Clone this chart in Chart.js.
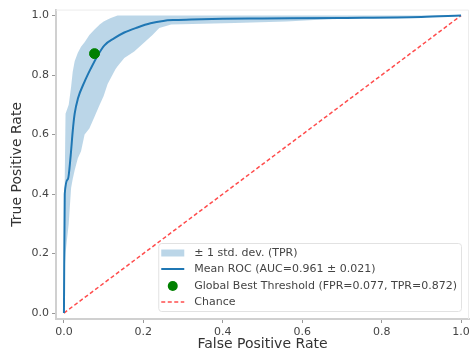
<!DOCTYPE html>
<html>
<head>
<meta charset="utf-8">
<script src="https://cdn.jsdelivr.net/npm/chart.js@4/dist/chart.umd.min.js"></script>
<style>
  html, body { margin: 0; padding: 0; background: #fff; }
  #wrap { width: 475px; height: 354px; }
</style>
</head>
<body>
<div id="wrap"><canvas id="rocChart" width="475" height="354"></canvas></div>
<script>
// values
var fpr     = [0, 0.002, 0.01, 0.017, 0.022, 0.027, 0.035, 0.052, 0.068, 0.085, 0.102, 0.127, 0.152, 0.185, 0.218, 0.25, 0.28, 0.32, 0.40, 0.50, 0.70, 0.90, 1.0];
var meanTpr = [0, 0.40, 0.45, 0.53, 0.61, 0.67, 0.72, 0.778, 0.823, 0.866, 0.90, 0.924, 0.943, 0.96, 0.974, 0.982, 0.985, 0.987, 0.989, 0.99, 0.992, 0.995, 1.0];

var bandFpr  = [0, 0.002, 0.004, 0.012, 0.018, 0.022, 0.027, 0.035, 0.043, 0.052, 0.064, 0.077, 0.09, 0.10, 0.11, 0.118, 0.13, 0.135, 0.152, 0.177, 0.20, 0.223, 0.24, 0.27, 0.43, 0.56, 0.70, 0.85, 1.0];
var upperTpr = [0, 0.45, 0.67, 0.70, 0.76, 0.81, 0.846, 0.875, 0.895, 0.91, 0.935, 0.953, 0.97, 0.98, 0.987, 0.992, 0.998, 1.0, 1.0, 1.0, 1.0, 1.0, 1.0, 1.0, 1.0, 1.0, 1.0, 1.0, 1.0];
var lowerTpr = [0, 0.15, 0.20, 0.30, 0.42, 0.45, 0.48, 0.52, 0.544, 0.60, 0.62, 0.66, 0.70, 0.73, 0.77, 0.79, 0.82, 0.83, 0.857, 0.879, 0.907, 0.935, 0.958, 0.97, 0.975, 0.98, 0.99, 0.995, 1.0];

var bestPoint = [0.077, 0.872];
var chanceX = [0, 1];
var tickValues = [0, 0.2, 0.4, 0.6, 0.8, 1.0];

var legendLabels = [
    "± 1 std. dev. (TPR)",
    "Mean ROC (AUC=0.961 ± 0.021)",
    "Global Best Threshold (FPR=0.077, TPR=0.872)",
    "Chance"
];

function pts(xs, ys) {
    return xs.map(function (x, i) { return { x: x, y: ys[i] }; });
}

var FONT = "'DejaVu Sans', sans-serif";

// frame around the plot + legend drawn inside the axes, matplotlib style
var framePlugin = {
    id: "frame",
    beforeDatasetsDraw: function (chart) {
        var a = chart.chartArea, c = chart.ctx;
        c.save();
        c.strokeStyle = "#ececec";
        c.lineWidth = 1;
        c.beginPath();
        c.moveTo(a.left, a.top + 0.5);
        c.lineTo(a.right - 0.5, a.top + 0.5);
        c.lineTo(a.right - 0.5, a.bottom);
        c.stroke();
        c.restore();
    },
    afterDraw: function (chart) {
        var a = chart.chartArea, c = chart.ctx;
        c.save();
        c.font = "11px " + FONT;
        var w = 0;
        legendLabels.forEach(function (t) { w = Math.max(w, c.measureText(t).width); });
        var boxW = w + 40, boxH = 68;
        var bx = a.right - 8 - boxW, by = a.bottom - 8 - boxH;
        c.fillStyle = "rgba(255,255,255,0.8)";
        c.strokeStyle = "#e2e2e2";
        c.lineWidth = 1;
        c.beginPath();
        c.roundRect(bx + 0.5, by + 0.5, boxW, boxH, 3);
        c.fill();
        c.stroke();
        var hx = bx + 3, tx = bx + 36;
        var rows = [by + 10, by + 26, by + 43, by + 59];
        // std band patch
        c.fillStyle = "rgba(31,119,180,0.3)";
        c.fillRect(hx, rows[0] - 3.5, 23, 7);
        // mean line
        c.strokeStyle = "#1f77b4";
        c.lineWidth = 2;
        c.beginPath(); c.moveTo(hx, rows[1]); c.lineTo(hx + 23, rows[1]); c.stroke();
        // best point
        c.fillStyle = "#008000";
        c.beginPath(); c.arc(hx + 11.5, rows[2], 5, 0, Math.PI * 2); c.fill();
        // chance
        c.strokeStyle = "rgba(255,0,0,0.7)";
        c.lineWidth = 1.5;
        c.setLineDash([4, 2.5]);
        c.beginPath(); c.moveTo(hx, rows[3]); c.lineTo(hx + 23, rows[3]); c.stroke();
        c.setLineDash([]);
        c.fillStyle = "#444";
        c.textBaseline = "middle";
        legendLabels.forEach(function (t, i) { c.fillText(t, tx, rows[i]); });
        c.restore();
    }
};

var ctx = document.getElementById("rocChart").getContext("2d");
new Chart(ctx, {
    type: "line",
    data: {
        datasets: [
            {
                label: legendLabels[2],
                type: "scatter",
                data: [{ x: bestPoint[0], y: bestPoint[1] }],
                backgroundColor: "#008000",
                borderColor: "#008000",
                pointRadius: 5,
                order: 0
            },
            {
                label: legendLabels[1],
                data: pts(fpr, meanTpr),
                borderColor: "#1f77b4",
                borderWidth: 2,
                pointRadius: 0,
                fill: false,
                cubicInterpolationMode: "monotone",
                order: 1
            },
            {
                label: legendLabels[3],
                data: pts(chanceX, chanceX),
                borderColor: "rgba(255,0,0,0.7)",
                borderWidth: 1.5,
                borderDash: [4, 2.5],
                pointRadius: 0,
                fill: false,
                order: 2
            },
            {
                label: legendLabels[0],
                data: pts(bandFpr, upperTpr),
                borderWidth: 0,
                borderColor: "rgba(0,0,0,0)",
                backgroundColor: "rgba(31,119,180,0.3)",
                pointRadius: 0,
                fill: "+1",
                order: 3
            },
            {
                label: "lower",
                data: pts(bandFpr, lowerTpr),
                borderWidth: 0,
                borderColor: "rgba(0,0,0,0)",
                pointRadius: 0,
                fill: false,
                order: 4
            }
        ]
    },
    options: {
        responsive: false,
        animation: false,
        layout: { padding: { top: 8, right: 2, left: 0, bottom: 0 } },
        plugins: {
            legend: { display: false },
            tooltip: { enabled: false }
        },
        scales: {
            x: {
                type: "linear",
                min: -0.02,
                max: 1.02,
                afterBuildTicks: function (s) { s.ticks = tickValues.map(function (v) { return { value: v }; }); },
                afterFit: function (s) { s.height = 35; s.paddingRight = 0; },
                ticks: {
                    color: "#444",
                    font: { family: FONT, size: 11 },
                    padding: 3,
                    maxRotation: 0,
                    callback: function (v) { return v.toFixed(1); }
                },
                grid: { drawOnChartArea: false, drawTicks: true, tickLength: 4, color: "#999" },
                border: { display: true, color: "#d0d0d0", width: 2 },
                title: {
                    display: true,
                    text: "False Positive Rate",
                    color: "#333",
                    font: { family: FONT, size: 14 },
                    padding: { top: 0, bottom: 1 }
                }
            },
            y: {
                type: "linear",
                min: -0.02,
                max: 1.02,
                afterBuildTicks: function (s) { s.ticks = tickValues.map(function (v) { return { value: v }; }); },
                afterFit: function (s) { s.width = 56; },
                ticks: {
                    color: "#444",
                    font: { family: FONT, size: 11 },
                    padding: 3,
                    callback: function (v) { return v.toFixed(1); }
                },
                grid: { drawOnChartArea: false, drawTicks: true, tickLength: 4, color: "#999" },
                border: { display: true, color: "#d0d0d0", width: 2 },
                title: {
                    display: true,
                    text: "True Positive Rate",
                    color: "#333",
                    font: { family: FONT, size: 14 },
                    padding: { top: 9, bottom: 0 }
                }
            }
        }
    },
    plugins: [framePlugin]
});
</script>
</body>
</html>
